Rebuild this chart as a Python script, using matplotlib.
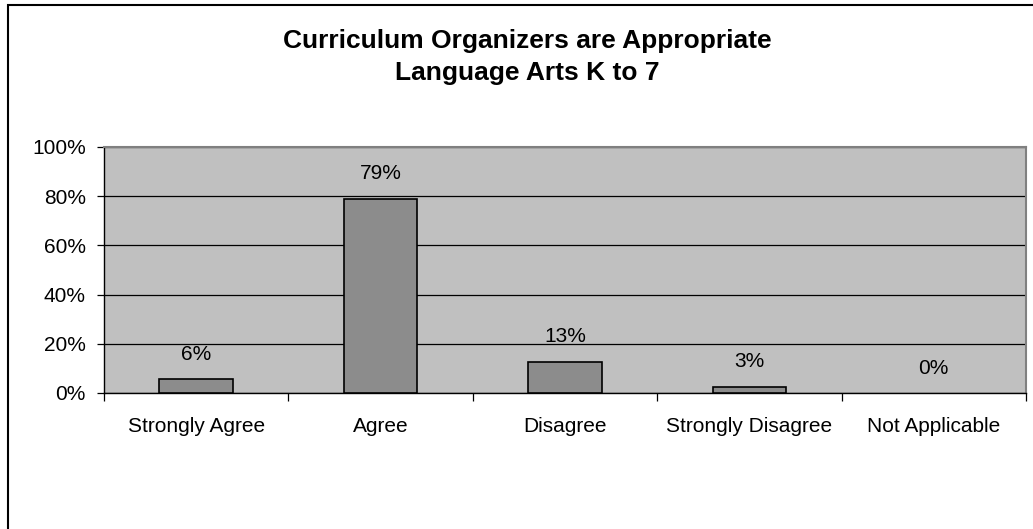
import matplotlib
matplotlib.use("Agg")
import matplotlib.pyplot as plt
from matplotlib.patches import Rectangle
import numpy as np

categories = ["Strongly Agree", "Agree", "Disagree", "Strongly Disagree", "Not Applicable"]
values = [5.6, 79.0, 12.7, 2.6, 0.0]
value_labels = ["6%", "79%", "13%", "3%", "0%"]
yticks = [0, 20, 40, 60, 80, 100]
ytick_labels = ["0%", "20%", "40%", "60%", "80%", "100%"]
title_lines = ["Curriculum Organizers are Appropriate", "Language Arts K to 7"]

plt.rcParams['font.family'] = ['Liberation Sans', 'DejaVu Sans']

W, H = 1033, 529
fig = plt.figure(figsize=(W / 100, H / 100), dpi=100)
fig.patch.set_facecolor("white")

# outer frame (extends beyond right/bottom edges)
fig.patches.append(Rectangle((8 / W, -0.05), 1.2, 1 - 5 / H + 0.05, transform=fig.transFigure,
                             fill=False, edgecolor="black", linewidth=1.5, zorder=0))

ax = fig.add_axes([104 / W, 1 - 393 / H, (1026 - 104) / W, (393 - 147) / H])
ax.set_facecolor("#C0C0C0")

x = np.arange(len(categories))
bars = ax.bar(x, values, width=0.4, color="#8C8C8C", edgecolor="black", linewidth=1.2, zorder=3)
for b, v in zip(bars, values):
    if v == 0:
        b.set_linewidth(0)
ax.set_xlim(-0.5, len(categories) - 0.5)
ax.set_ylim(0, 100)

lab_fs = 15
for xi, v, lab in zip(x, values, value_labels):
    ax.annotate(lab, (xi, v), xytext=(0, 18), textcoords="offset points",
                ha="center", va="center", fontsize=lab_fs)

ax.set_yticks(yticks)
ax.set_yticklabels(ytick_labels, fontsize=lab_fs)
ax.yaxis.grid(True, color="black", linewidth=0.9, zorder=1)
ax.set_axisbelow(True)
ax.tick_params(axis="y", length=5, width=0.9, pad=8)

ax.set_xticks(np.arange(len(categories) + 1) - 0.5)
ax.set_xticklabels([])
ax.tick_params(axis="x", which="major", length=6, width=0.9, direction="out")
ax.set_xticks(x, minor=True)
ax.set_xticklabels(categories, minor=True, fontsize=lab_fs)
ax.tick_params(axis="x", which="minor", length=0, pad=17)

for s in ["left", "bottom"]:
    ax.spines[s].set_color("black")
    ax.spines[s].set_linewidth(1.0)
for s in ["top", "right"]:
    ax.spines[s].set_color("#808080")
    ax.spines[s].set_linewidth(1.5)

fig.text(527 / W, 1 - 41 / H, title_lines[0], ha="center", va="center", fontsize=19, fontweight="bold")
fig.text(527 / W, 1 - 73 / H, title_lines[1], ha="center", va="center", fontsize=19, fontweight="bold")

fig.savefig("out.png", dpi=100, facecolor="white")
